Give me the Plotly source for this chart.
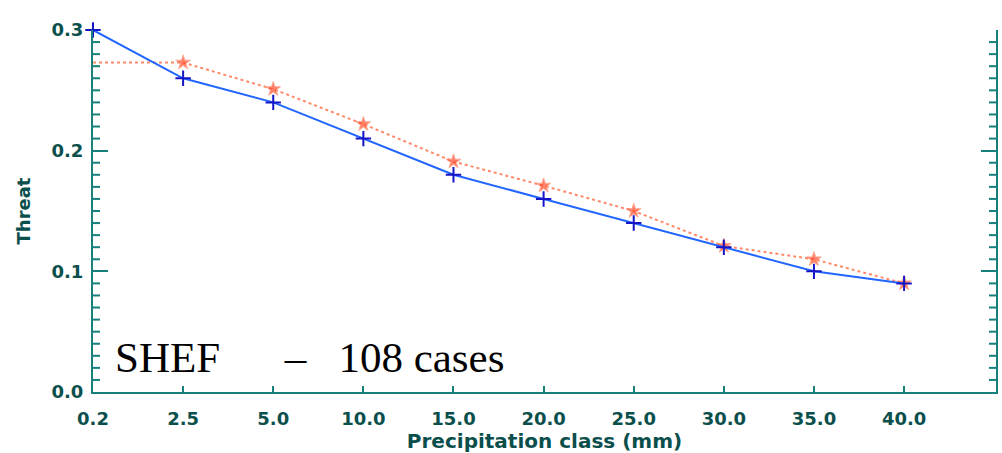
import plotly.graph_objects as go

categories = ["0.2", "2.5", "5.0", "10.0", "15.0", "20.0", "25.0", "30.0", "35.0", "40.0"]
blue_values = [0.30, 0.26, 0.24, 0.21, 0.18, 0.16, 0.14, 0.12, 0.10, 0.09]
red_values = [0.273, 0.273, 0.251, 0.222, 0.191, 0.171, 0.150, 0.121, 0.110, 0.090]
minor_tick_values = [round(i * 0.01, 2) for i in range(31) if i % 10 != 0]

idx = list(range(len(categories)))
axis_color = "#17807d"
text_color = "#0b4f4c"

W, H = 1002, 453
L, R, T, B = 93, 6, 30, 61
pw, ph = W - L - R, H - T - B

fig = go.Figure()
fig.add_trace(go.Scatter(
    x=[idx[0]], y=[blue_values[0]], yaxis="y2", mode="markers",
    marker=dict(opacity=0), showlegend=False, hoverinfo="skip",
))
fig.add_trace(go.Scatter(
    x=idx, y=red_values, mode="lines+markers",
    line=dict(color="#ff8a6a", width=2, dash="dot"),
    marker=dict(symbol="star", size=[0] + [11] * (len(idx) - 1), color="#ff4a2a"),
    showlegend=False, cliponaxis=False,
))
fig.add_trace(go.Scatter(
    x=idx, y=blue_values, mode="lines+markers",
    line=dict(color="#2266ff", width=2),
    marker=dict(symbol="cross-thin", size=11, line=dict(color="#1515c8", width=2)),
    showlegend=False, cliponaxis=False,
))

# minor ticks (inside) on left and right y axes
minor_len = 7 / pw
for v in minor_tick_values:
    for x0, x1 in [(0, minor_len), (1 - minor_len, 1)]:
        fig.add_shape(type="line", xref="x domain", yref="y", x0=x0, x1=x1, y0=v, y1=v,
                      line=dict(color=axis_color, width=2), layer="above")

fig.add_annotation(
    x=(113 - L) / pw, y=(H - B - 357) / ph, xref="paper", yref="paper",
    text="SHEF&nbsp;&nbsp;&nbsp;&nbsp;&nbsp;&nbsp;–&nbsp;&nbsp;&nbsp;108 cases",
    showarrow=False, font=dict(family="Liberation Serif", size=43, color="black"),
    xanchor="left", yanchor="middle",
)

tick_font = dict(family="DejaVu Sans", size=18, weight="bold", color=text_color)

fig.update_layout(
    width=W, height=H,
    margin=dict(l=L, r=R, t=T, b=B),
    plot_bgcolor="white", paper_bgcolor="white",
    font=dict(family="DejaVu Sans", color=text_color),
    xaxis=dict(
        range=[0, 10.02], tickvals=idx, ticktext=categories,
        showline=True, linecolor=axis_color, linewidth=2, mirror=False,
        ticks="inside", ticklen=6, tickwidth=2, tickcolor=axis_color,
        showgrid=False, zeroline=False,
        tickfont=tick_font, ticklabelstandoff=9,
        title=dict(text="Precipitation class (mm)",
                   font=dict(family="DejaVu Sans", size=20, weight="bold", color=text_color), standoff=2),
    ),
    yaxis=dict(
        range=[0, 0.3], tickmode="linear", tick0=0, dtick=0.1, tickformat=".1f",
        showline=True, linecolor=axis_color, linewidth=2,
        ticks="inside", ticklen=15, tickwidth=2, tickcolor=axis_color,
        showgrid=False, zeroline=False,
        tickfont=tick_font, ticklabelstandoff=4,
        title=dict(text="Threat", font=dict(family="DejaVu Sans", size=18, weight="bold", color=text_color), standoff=16),
    ),
    yaxis2=dict(
        range=[0, 0.3], tickmode="linear", tick0=0, dtick=0.1, overlaying="y", side="right",
        showline=True, linecolor=axis_color, linewidth=2,
        ticks="inside", ticklen=15, tickwidth=2, tickcolor=axis_color,
        showgrid=False, zeroline=False, showticklabels=False,
    ),
)

fig.write_html("out.html")
